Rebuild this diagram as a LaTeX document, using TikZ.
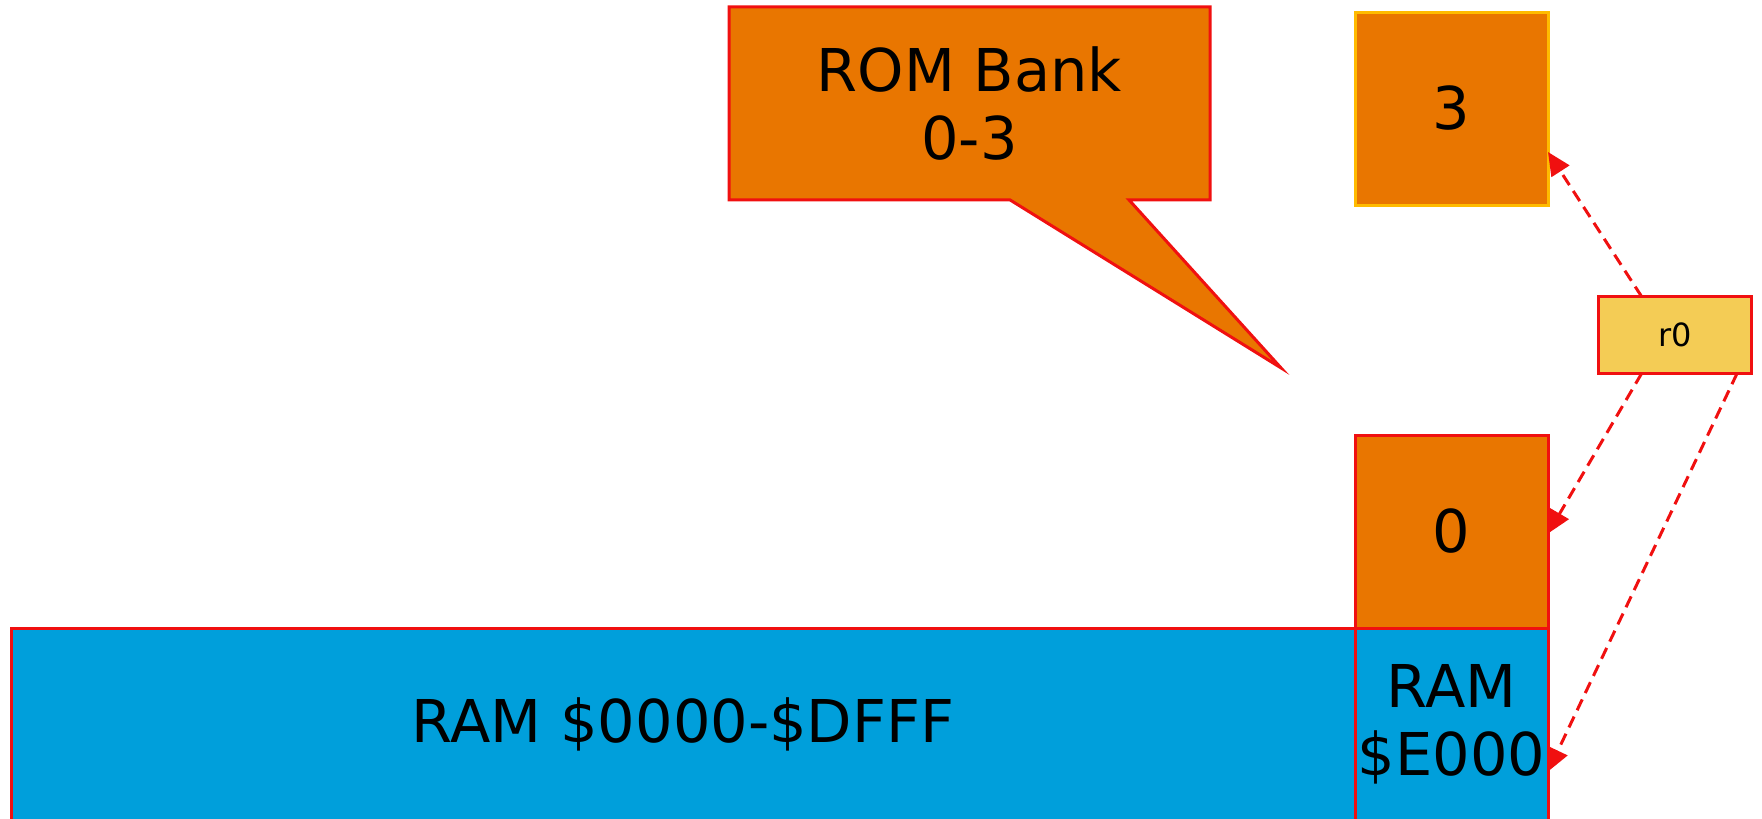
\documentclass[tikz,border=0pt]{standalone}
\usepackage{fontspec}
\setmainfont{DejaVu Sans}
\usetikzlibrary{arrows.meta,calc,backgrounds}
\definecolor{bankColor}{HTML}{E97600}
\definecolor{ramColor}{HTML}{009FDB}
\definecolor{regColor}{HTML}{F4CC55}
\definecolor{lineColor}{HTML}{F01010}
\definecolor{topColor}{HTML}{FFBB00}
\tikzset{
	cell/.style={draw=lineColor, line width=1.5pt, inner sep=0, outer sep=0,
		minimum width=96.5pt, minimum height=96.5pt, align=center,
		font=\fontsize{29.5}{34.3}\selectfont},
	bank/.style={cell, fill=bankColor},
	ram/.style={cell, fill=ramColor},
	reg/.style={cell, fill=regColor, minimum width=76.2pt, minimum height=38.3pt,
		font=\fontsize{16}{19}\selectfont},
	link/.style={draw=lineColor, line width=1.5pt, dash pattern=on 6pt off 3.5pt,
		-{Triangle[length=11.5pt,width=10.5pt]}}
}

\begin{document}
\begin{tikzpicture}[x=0.5pt, y=-0.5pt]
\useasboundingbox (0,0) rectangle (1762,819);
\node[bank, draw=topColor] (b3) at (1451.5,108.5) {3};
\node[bank] (b0) at (1451.5,531.5) {0};
\node[ram, minimum width=672pt] (ramlo) at (683,724.5) {RAM \$0000-\$DFFF};
\node[ram] (ramhi) at (1451.5,724.5) {RAM\\\$E000};
\node[reg] (r0) at (1674.9,335) {r0};
\node[cell, draw=none, minimum width=240.5pt] (rom) at (969.5,103.4) {ROM Bank\\0-3};
\begin{scope}[on background layer]
% callout outline with tail
\draw[draw=lineColor, fill=bankColor, line width=1.5pt] (rom.north west) -- (rom.north east)
	-- (rom.south east) -- ($(rom.south east)+(-81,0)$) -- ($(rom.south east)+(71,168)$)
	-- ($(rom.south west)+(281,0)$) -- (rom.south west) -- cycle;
\end{scope}
\draw[link] ($(r0.north west)+(43,0)$) -- ($(b3.south east)+(0,-53)$);
\draw[link] ($(r0.south west)+(43,0)$) -- ($(b0.east)+(0,2)$);
\draw[link] ($(r0.south east)+(-14,0)$) -- ($(ramhi.east)+(0,47)$);
\end{tikzpicture}
\end{document}
